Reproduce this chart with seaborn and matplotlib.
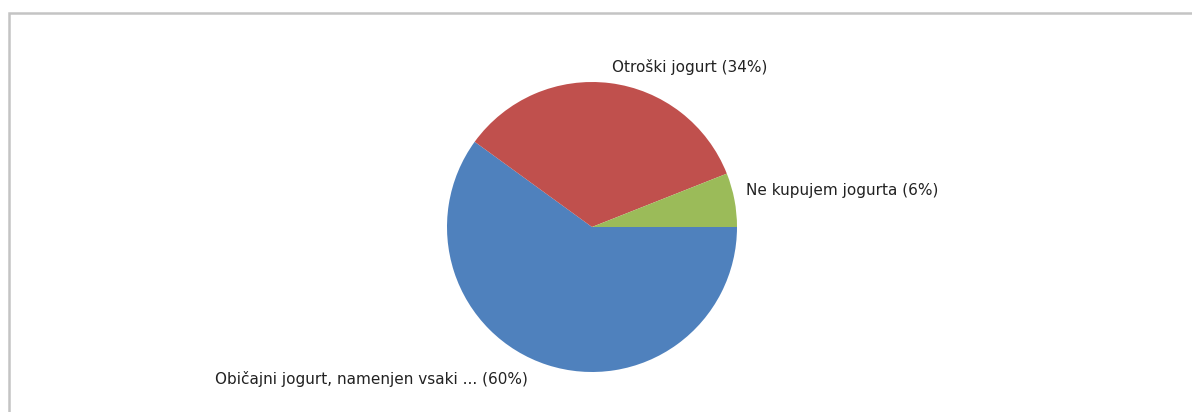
import matplotlib
matplotlib.use("Agg")
import matplotlib.pyplot as plt
import seaborn as sns
from matplotlib.patches import Rectangle

# === Datos ===
kategorije = ["Običajni jogurt, namenjen vsaki ...", "Otroški jogurt", "Ne kupujem jogurta"]
deleži = [60, 34, 6]
barve = ["#4f81bd", "#c0504d", "#9bbb59"]

sns.set_theme(style="white")
plt.rcParams['font.family'] = ['DejaVu Sans']

W, H = 1192, 412
fig = plt.figure(figsize=(W / 100, H / 100), dpi=100)
fig.patch.set_facecolor("white")

# okvir
fig.patches.append(Rectangle((9 / W, -0.1), 1.2, (H - 13) / H + 0.1,
                             transform=fig.transFigure, fill=False,
                             edgecolor="#c4c4c4", linewidth=1.8))

# os za torto (središče ~ (592, 227), polmer ~145 px)
r = 145
cx, cy = 592, H - 227
ax = fig.add_axes([(cx - r) / W, (cy - r) / H, 2 * r / W, 2 * r / H])

oznake = [f"{k} ({d}%)" for k, d in zip(kategorije, deleži)]
wedges, texts = ax.pie(deleži, labels=oznake, colors=barve, startangle=0,
                       counterclock=False, labeldistance=1.1,
                       wedgeprops=dict(linewidth=0),
                       textprops=dict(fontsize=11, color="#222222"))
# malo popravi položaje oznak (kot v izvirniku)
x, y = texts[0].get_position()
texts[0].set_position((x - 0.1, y))
x, y = texts[2].get_position()
texts[2].set_position((x - 0.02, y + 0.045))
x, y = texts[1].get_position()
texts[1].set_position((x, y + 0.01))
ax.set_xlim(-1, 1)
ax.set_ylim(-1, 1)
ax.set_aspect("equal")
ax.axis("off")

fig.savefig("out.png", dpi=100, facecolor="white")
